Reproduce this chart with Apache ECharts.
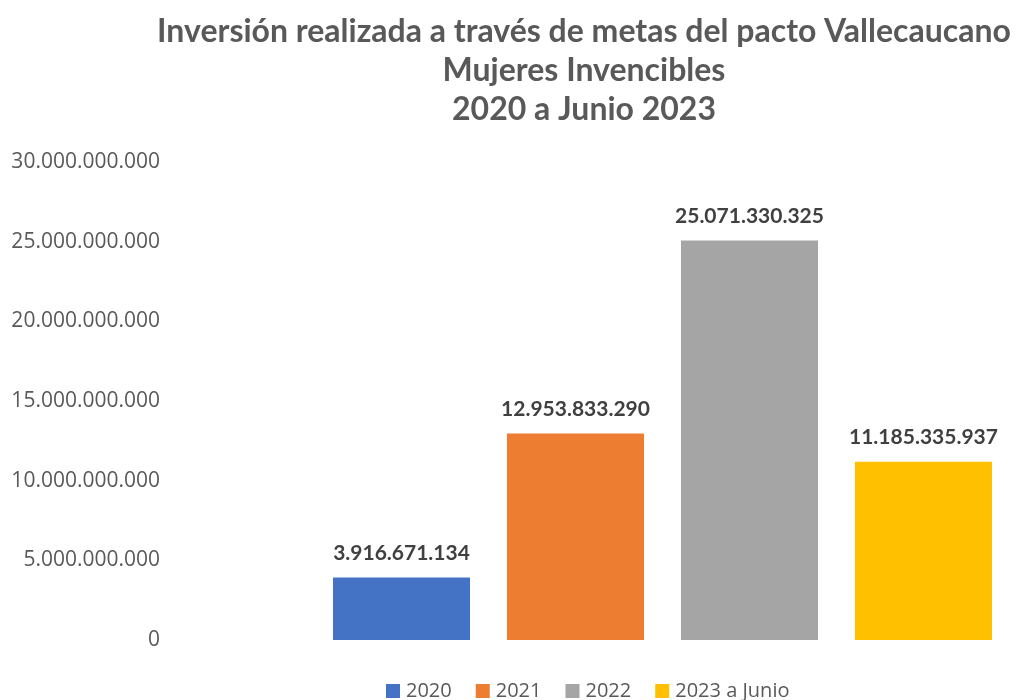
<!DOCTYPE html>
<html>
<head>
<meta charset="utf-8">
<script src="https://cdn.jsdelivr.net/npm/echarts@6/dist/echarts.min.js"></script>
<style>
  html, body { margin: 0; padding: 0; background: #fff; }
  #chart { width: 1018px; height: 700px; }
</style>
</head>
<body>
<div id="chart"></div>
<script>
// datos del grafico
var titleLines = ['Inversión realizada a través de metas del pacto Vallecaucano', 'Mujeres Invencibles', '2020 a Junio 2023'];
var seriesNames = ['2020', '2021', '2022', '2023 a Junio'];
var seriesValues = [3916671134, 12953833290, 25071330325, 11185335937];
var seriesColors = ['#4472C4', '#ED7D31', '#A5A5A5', '#FFC000'];
var yMax = 30000000000;
var yStep = 5000000000;

// separador de miles con punto
function fmt(v) {
  return String(Math.round(v)).replace(/\B(?=(\d{3})+(?!\d))/g, '.');
}

var chart = echarts.init(document.getElementById('chart'));

var series = seriesNames.map(function (name, i) {
  return {
    name: name,
    type: 'bar',
    data: [seriesValues[i]],
    barWidth: 137,
    barGap: '27%',
    itemStyle: { color: seriesColors[i] },
    label: {
      show: true,
      position: 'top',
      distance: 14,
      formatter: function (p) { return fmt(p.value); },
      fontFamily: 'Lato',
      fontWeight: 'bold',
      fontSize: 21,
      color: '#404040'
    }
  };
});

chart.setOption({
  animation: false,
  title: {
    text: titleLines.join('\n'),
    left: 579,
    top: 7,
    textAlign: 'center',
    textStyle: {
      fontFamily: 'Lato',
      fontWeight: 'bold',
      fontSize: 32,
      lineHeight: 39,
      color: '#595959'
    }
  },
  legend: {
    data: seriesNames,
    left: 381,
    top: 676,
    icon: 'rect',
    itemWidth: 14,
    itemHeight: 14,
    itemGap: 24,
    textStyle: { fontFamily: 'Open Sans', fontSize: 20, color: '#595959', padding: [0, 0, 0, 1] }
  },
  grid: { left: 315, right: 8, top: 162, bottom: 60 },
  xAxis: {
    type: 'category',
    data: [''],
    axisLine: { show: false },
    axisTick: { show: false },
    axisLabel: { show: false }
  },
  yAxis: {
    type: 'value',
    min: 0,
    max: yMax,
    interval: yStep,
    splitLine: { show: false },
    axisLine: { show: false },
    axisTick: { show: false },
    axisLabel: {
      margin: 155,
      formatter: function (v) { return fmt(v); },
      fontFamily: 'Open Sans',
      fontSize: 21,
      color: '#595959'
    }
  },
  series: series
});
</script>
</body>
</html>
